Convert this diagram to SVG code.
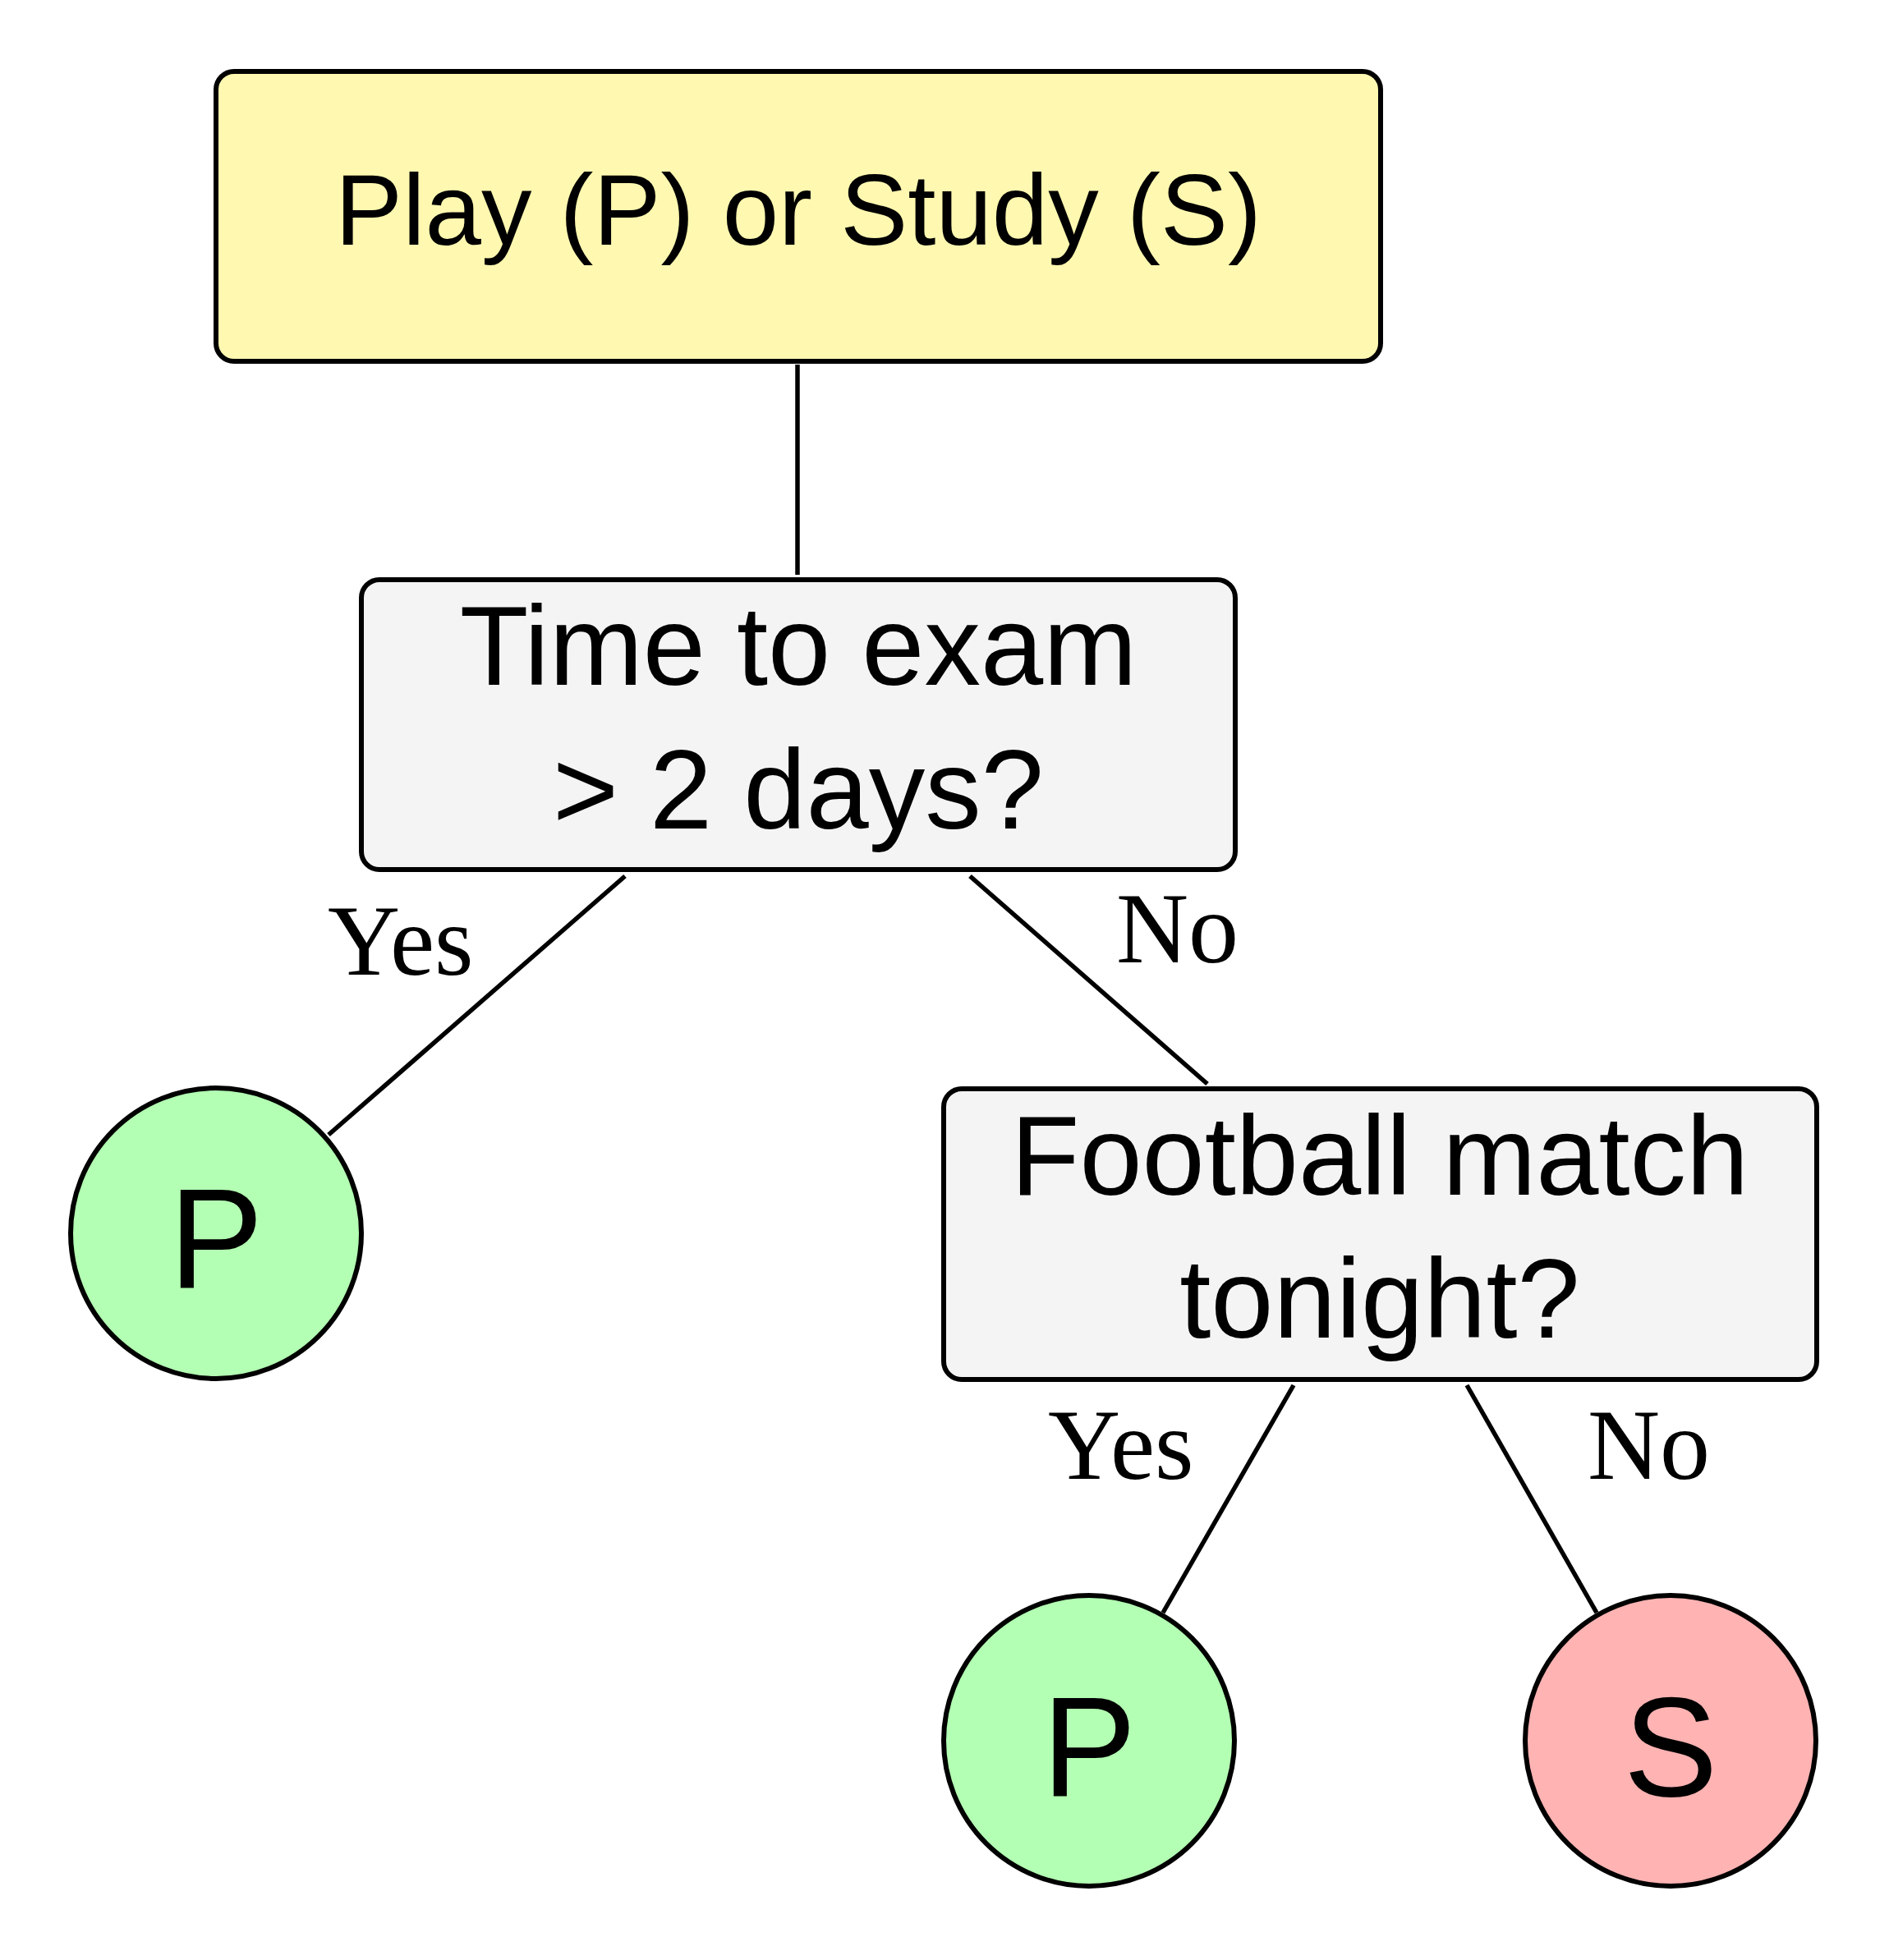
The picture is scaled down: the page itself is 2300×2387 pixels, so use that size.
<svg xmlns="http://www.w3.org/2000/svg" width="2300" height="2387" viewBox="0 0 2300 2387">
<style>
.box{stroke:#000;stroke-width:6}
.sans{font-family:"Liberation Sans","DejaVu Sans",sans-serif;fill:#000;text-anchor:middle}
.serif{font-family:"Liberation Serif","DejaVu Serif",serif;fill:#000;font-size:122px}
.edge{stroke:#000;stroke-width:5.5;fill:none}
</style>
<rect width="2300" height="2387" fill="#fff"/>
<g id="connectors">
<line class="edge" x1="971" y1="444" x2="971" y2="700"/>
<line class="edge" x1="761" y1="1067" x2="400" y2="1382"/>
<line class="edge" x1="1181" y1="1067" x2="1470" y2="1320"/>
<line class="edge" x1="1575" y1="1687" x2="1416" y2="1964"/>
<line class="edge" x1="1786" y1="1687" x2="1944" y2="1964"/>
<text class="serif" x="399" y="1187">Yes</text>
<text class="serif" x="1359" y="1172">No</text>
<text class="serif" x="1276" y="1801">Yes</text>
<text class="serif" x="1933" y="1801">No</text>
</g>
<g id="root">
<rect class="box" x="263" y="87" width="1418" height="353" rx="22" fill="#FFF8B0"/>
<text class="sans" x="972" y="298" font-size="123">Play (P) or Study (S)</text>
</g>
<g id="time">
<rect class="box" x="440" y="706" width="1064" height="353" rx="22" fill="#F4F4F4"/>
<text class="sans" x="972" y="834" font-size="137">Time to exam</text>
<text class="sans" x="972" y="1009" font-size="137">&gt; 2 days?</text>
</g>
<g id="football">
<rect class="box" x="1149" y="1326" width="1063" height="354" rx="22" fill="#F4F4F4"/>
<text class="sans" x="1680" y="1455" font-size="137">Football match</text>
<text class="sans" x="1680" y="1629" font-size="137">tonight?</text>
</g>
<g id="leafP1">
<circle class="box" cx="263" cy="1502" r="177" fill="#B3FFB3"/>
<text class="sans" x="263" y="1568" font-size="172">P</text>
</g>
<g id="leafP2">
<circle class="box" cx="1326" cy="2120" r="177" fill="#B3FFB3"/>
<text class="sans" x="1326" y="2187" font-size="172">P</text>
</g>
<g id="leafS">
<circle class="box" cx="2034" cy="2120" r="177" fill="#FFB3B3"/>
<text class="sans" x="2034" y="2187" font-size="172">S</text>
</g>
</svg>
